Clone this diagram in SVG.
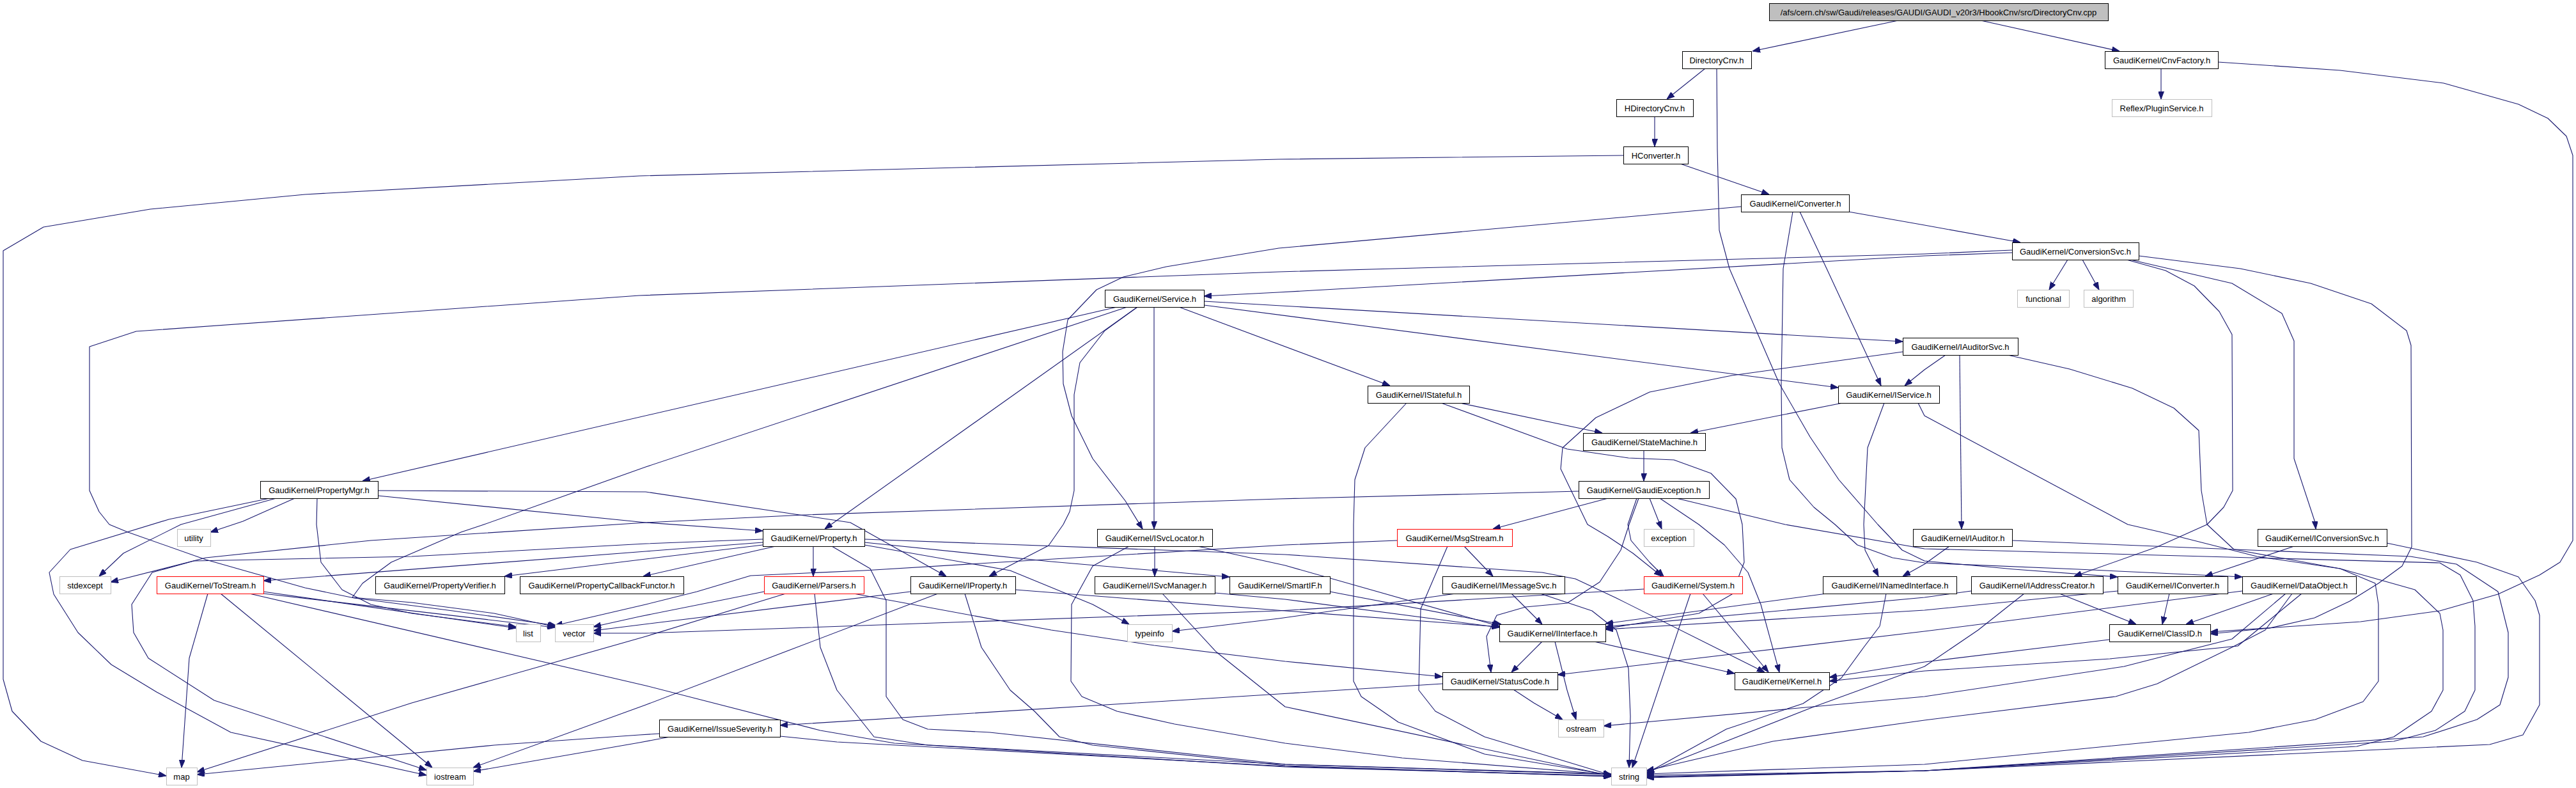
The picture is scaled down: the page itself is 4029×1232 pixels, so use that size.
<svg xmlns="http://www.w3.org/2000/svg" width="4029" height="1232" viewBox="0 0 4029 1232">
<defs>
<marker id="a" markerWidth="12" markerHeight="9" refX="12" refY="4.5" orient="auto" markerUnits="userSpaceOnUse"><path d="M0,0 L12,4.5 L0,9 z" fill="#191970" stroke="#191970" stroke-width="1"/></marker>
<style>
.n rect{fill:#fff;stroke:#000;stroke-width:1}
.g rect{stroke:#bfbfbf}
.r rect{stroke:#ff0000}
.root rect{fill:#bfbfbf}
text{font-family:"Liberation Sans",Arial,Helvetica,sans-serif;font-size:13px;text-anchor:middle;fill:#000}
.e path{fill:none;stroke:#191970;stroke-width:1.1;stroke-linejoin:round;marker-end:url(#a)}
</style>
</defs>
<rect width="4029" height="1232" fill="#fff"/>
<g id="edges" class="e">
<path d="M2969,32 L2741,80"/>
<path d="M3098,32 L3315,80"/>
<path d="M2667,107 L2607,155"/>
<path d="M2588,182 L2588,229"/>
<path d="M2628,256 L2767,304"/>
<path d="M2539,243 L2000,249 L1000,275 L477,304 L235,327 L68,355 L5,392 L5,1062 L19,1112 L64,1159 L129,1189 L260,1213"/>
<path d="M3380,107 L3380,155"/>
<path d="M3469,97 L3660,110 L3822,130 L3939,163 L3985,185 L4014,213 L4024,243 L4024,845 L4004,879 L3972,899 L3907,929 L3816,955 L3692,972 L3457,988"/>
<path d="M2685,107 L2686,233 L2689,360 L2705,420 L2747,517 L2783,600 L2831,683 L2876,750 L2937,820 L2975,860 L3010,877 L3150,890 L3312,902"/>
<path d="M2804,331 L2789,420 L2786,600 L2787,700 L2799,750 L2837,793 L2870,820 L2905,852 L2960,872 L3010,880 L3250,890 L3507,902"/>
<path d="M2815,331 L2857,420 L2942,603"/>
<path d="M2891,331 L3010,352 L3160,379"/>
<path d="M2723,323 L2000,388 L1824,417 L1757,433 L1715,453 L1670,500 L1662,550 L1663,600 L1676,650 L1709,717 L1760,783 L1787,827"/>
<path d="M3147,395 L3010,400 L2000,457 L1883,463"/>
<path d="M3147,391 L3010,397 L2180,420 L2000,425 L1000,462 L213,518 L140,542 L140,767 L155,800 L171,820 L200,832 L322,875 L477,919 L554,935 L708,955 L870,978"/>
<path d="M3234,406 L3205,453"/>
<path d="M3257,406 L3283,453"/>
<path d="M3326,406 L3387,423 L3432,447 L3471,487 L3491,523 L3492,767 L3478,793 L3452,820 L3374,855 L3244,901"/>
<path d="M3332,406 L3491,443 L3569,490 L3588,533 L3588,717 L3621,817 L3622,827"/>
<path d="M3345,400 L3504,420 L3614,443 L3709,475 L3764,517 L3771,540 L3772,855 L3757,885 L3720,912 L3675,940 L3620,966 L3550,982 L3457,991"/>
<path d="M1747,480 L567,752"/>
<path d="M1763,480 L1010,730 L757,820 L721,832 L612,879 L567,912 L551,934 L644,942 L773,959 L868,980"/>
<path d="M1779,480 L1290,827"/>
<path d="M1779,480 L1728,517 L1689,567 L1680,617 L1680,767 L1673,800 L1663,820 L1640,853 L1547,901"/>
<path d="M1805,480 L1805,827"/>
<path d="M1844,480 L2174,603"/>
<path d="M1883,471 L2976,534"/>
<path d="M1883,477 L2875,606"/>
<path d="M2283,630 L2506,677"/>
<path d="M2254,630 L2451,702 L2547,716 L2618,719 L2676,740 L2715,780 L2725,820 L2728,879 L2709,929 L2657,959 L2511,983"/>
<path d="M2200,630 L2135,700 L2119,750 L2117,820 L2117,1065 L2129,1089 L2187,1129 L2322,1179 L2520,1212"/>
<path d="M2882,630 L2644,677"/>
<path d="M2947,630 L2921,700 L2915,820 L2917,860 L2938,901"/>
<path d="M3000,630 L3010,650 L3328,820 L3380,832 L3530,870 L3660,889 L3777,922 L3816,959 L3821,985 L3821,1079 L3803,1112 L3744,1152 L3686,1167 L3010,1205 L2575,1212"/>
<path d="M3043,555 L3010,578 L2979,603"/>
<path d="M3065,555 L3068,827"/>
<path d="M2976,550 L2709,587 L2580,613 L2496,653 L2444,700 L2441,733 L2483,820 L2515,839 L2554,865 L2599,901"/>
<path d="M3140,555 L3237,577 L3335,607 L3400,638 L3439,673 L3443,767 L3452,820 L3494,859 L3660,889 L3715,912 L3720,945 L3720,1065 L3696,1097 L3621,1125 L3517,1145 L3010,1195 L2575,1210"/>
<path d="M2571,704 L2571,752"/>
<path d="M2469,768 L2000,780 L1258,805 L1010,817 L580,845 L322,872 L173,910"/>
<path d="M2515,779 L2335,827"/>
<path d="M2560,779 L2546,820 L2551,845 L2580,879 L2602,901"/>
<path d="M2580,779 L2599,827"/>
<path d="M2596,779 L2657,820 L2697,852 L2734,895 L2754,945 L2783,1051"/>
<path d="M2622,779 L2792,820 L3010,858 L3816,880 L3848,899 L3868,939 L3871,979 L3871,1079 L3855,1112 L3809,1142 L3744,1159 L3010,1205 L2575,1214"/>
<path d="M3049,854 L3010,882 L2976,901"/>
<path d="M3147,845 L3770,870 L3842,882 L3907,925 L3923,989 L3923,1059 L3910,1102 L3874,1125 L3790,1152 L3010,1205 L2575,1215"/>
<path d="M3733,849 L3874,879 L3939,902 L3965,939 L3972,962 L3972,1102 L3946,1149 L3894,1164 L3010,1205 L2575,1216"/>
<path d="M3588,854 L3449,901"/>
<path d="M3221,928 L3341,976"/>
<path d="M3393,928 L3382,976"/>
<path d="M3556,928 L3419,976"/>
<path d="M3575,928 L3491,999 L3400,1022 L3322,1042 L3010,1089 L2508,1135"/>
<path d="M3585,928 L3543,985 L3491,1012 L3374,1069 L3309,1089 L3010,1126 L2773,1159 L2575,1205"/>
<path d="M3166,928 L3094,985 L3010,1042 L2837,1105 L2575,1208"/>
<path d="M3312,924 L3010,954 L2511,984"/>
<path d="M3083,924 L3010,934 L2511,980"/>
<path d="M3507,924 L3010,987 L2436,1055"/>
<path d="M3299,1000 L3010,1035 L2861,1059"/>
<path d="M3600,928 L3500,1010 L3300,1030 L3010,1049 L2861,1065"/>
<path d="M461,779 L380,815 L329,832"/>
<path d="M432,779 L283,820 L193,865 L155,901"/>
<path d="M422,779 L264,812 L110,859 L77,895 L84,929 L122,989 L174,1039 L245,1082 L361,1145 L667,1212"/>
<path d="M496,779 L495,820 L502,879 L535,922 L580,945 L644,959 L807,980"/>
<path d="M591,775 L1010,817 L1193,830"/>
<path d="M591,767 L1010,769 L1330,817 L1480,901"/>
<path d="M325,928 L296,1029 L284,1200"/>
<path d="M345,928 L676,1200"/>
<path d="M412,925 L807,982"/>
<path d="M412,928 L868,981"/>
<path d="M390,928 L1010,1072 L1283,1142 L1399,1162 L2010,1195 L2520,1211"/>
<path d="M1193,843 L1010,850 L644,870 L303,877 L238,895 L206,945 L209,989 L232,1029 L335,1095 L667,1204"/>
<path d="M1193,848 L1010,862 L412,908"/>
<path d="M1193,852 L1010,874 L789,901"/>
<path d="M1213,854 L1006,901"/>
<path d="M1272,854 L1272,901"/>
<path d="M1301,854 L1361,889 L1386,939 L1386,1089 L1412,1125 L1451,1140 L1548,1145 L2010,1195 L2520,1210"/>
<path d="M1352,848 L1644,878 L1923,902"/>
<path d="M1352,852 L1580,892 L1709,945 L1766,976"/>
<path d="M1352,843 L2010,867 L2412,895 L2464,905 L2528,935 L2760,1051"/>
<path d="M2185,845 L2010,852 L1351,892 L1174,900 L1090,925 L1010,945 L868,978"/>
<path d="M2290,854 L2335,901"/>
<path d="M2264,854 L2222,952 L2219,1079 L2245,1112 L2322,1152 L2520,1212"/>
<path d="M1195,925 L1000,964 L928,980"/>
<path d="M1229,928 L1010,995 L644,1099 L308,1207"/>
<path d="M1274,928 L1283,1012 L1309,1079 L1367,1152 L1451,1165 L2010,1199 L2520,1213"/>
<path d="M1335,928 L1644,985 L1805,1009 L2010,1034 L2256,1058"/>
<path d="M1424,925 L1000,977 L928,986"/>
<path d="M1467,928 L1010,1102 L740,1200"/>
<path d="M1509,928 L1535,1012 L1580,1079 L1618,1112 L1657,1152 L1709,1165 L2010,1197 L2520,1214"/>
<path d="M1588,922 L2010,955 L2345,980"/>
<path d="M1806,854 L1806,901"/>
<path d="M1766,854 L1709,885 L1676,945 L1675,1065 L1692,1089 L1747,1112 L1837,1132 L2010,1162 L2193,1185 L2520,1211"/>
<path d="M1873,854 L2010,884 L2345,979"/>
<path d="M1900,927 L2010,937 L2345,981"/>
<path d="M1818,928 L1902,1019 L2010,1105 L2520,1213"/>
<path d="M2080,925 L2348,976"/>
<path d="M2277,928 L2000,967 L1833,987"/>
<path d="M2364,928 L2412,976"/>
<path d="M2409,928 L2490,955 L2528,985 L2547,1045 L2550,1120 L2548,1200"/>
<path d="M2571,921 L2000,955 L1010,990 L928,990"/>
<path d="M2644,928 L2553,1200"/>
<path d="M2663,928 L2766,1051"/>
<path d="M2563,779 L2548,820 L2535,860 L2502,910 L2451,943 L2386,949 L2341,962 L2325,995 L2332,1051"/>
<path d="M2857,928 L2511,975"/>
<path d="M2950,928 L2940,979 L2915,1012 L2880,1060 L2820,1100 L2700,1140 L2575,1209"/>
<path d="M2412,1003 L2364,1051"/>
<path d="M2432,1003 L2451,1079 L2465,1125"/>
<path d="M2493,1003 L2713,1053"/>
<path d="M2367,1078 L2399,1099 L2444,1125"/>
<path d="M2256,1069 L2000,1085 L1220,1134"/>
<path d="M1031,1147 L1000,1149 L773,1165 L308,1211"/>
<path d="M1048,1152 L1000,1161 L740,1206"/>
<path d="M1220,1151 L1309,1160 L2010,1198 L2520,1214"/>
</g>
<g id="n-root" class="n root"><rect x="2767.5" y="5.5" width="530" height="27"/><text x="3032" y="23.5">/afs/cern.ch/sw/Gaudi/releases/GAUDI/GAUDI_v20r3/HbookCnv/src/DirectoryCnv.cpp</text></g>
<g id="n-DirectoryCnv" class="n"><rect x="2631.5" y="80.5" width="108" height="27"/><text x="2685" y="98.5">DirectoryCnv.h</text></g>
<g id="n-CnvFactory" class="n"><rect x="3292.5" y="80.5" width="177" height="27"/><text x="3381" y="98.5">GaudiKernel/CnvFactory.h</text></g>
<g id="n-HDirectoryCnv" class="n"><rect x="2528.5" y="155.5" width="120" height="27"/><text x="2588" y="173.5">HDirectoryCnv.h</text></g>
<g id="n-PluginService" class="n g"><rect x="3303.5" y="155.5" width="156" height="27"/><text x="3381" y="173.5">Reflex/PluginService.h</text></g>
<g id="n-HConverter" class="n"><rect x="2539.5" y="229.5" width="101" height="27"/><text x="2590" y="247.5">HConverter.h</text></g>
<g id="n-Converter" class="n"><rect x="2723.5" y="304.5" width="169" height="27"/><text x="2808" y="322.5">GaudiKernel/Converter.h</text></g>
<g id="n-ConversionSvc" class="n"><rect x="3147.5" y="379.5" width="198" height="27"/><text x="3246" y="397.5">GaudiKernel/ConversionSvc.h</text></g>
<g id="n-Service" class="n"><rect x="1728.5" y="453.5" width="155" height="27"/><text x="1806" y="471.5">GaudiKernel/Service.h</text></g>
<g id="n-functional" class="n g"><rect x="3155.5" y="453.5" width="81" height="27"/><text x="3196" y="471.5">functional</text></g>
<g id="n-algorithm" class="n g"><rect x="3259.5" y="453.5" width="77" height="27"/><text x="3298" y="471.5">algorithm</text></g>
<g id="n-IAuditorSvc" class="n"><rect x="2976.5" y="528.5" width="180" height="27"/><text x="3066" y="546.5">GaudiKernel/IAuditorSvc.h</text></g>
<g id="n-IStateful" class="n"><rect x="2139.5" y="603.5" width="159" height="27"/><text x="2219" y="621.5">GaudiKernel/IStateful.h</text></g>
<g id="n-IService" class="n"><rect x="2875.5" y="603.5" width="158" height="27"/><text x="2954" y="621.5">GaudiKernel/IService.h</text></g>
<g id="n-StateMachine" class="n"><rect x="2476.5" y="677.5" width="191" height="27"/><text x="2572" y="695.5">GaudiKernel/StateMachine.h</text></g>
<g id="n-GaudiException" class="n"><rect x="2469.5" y="752.5" width="204" height="27"/><text x="2571" y="770.5">GaudiKernel/GaudiException.h</text></g>
<g id="n-PropertyMgr" class="n"><rect x="407.5" y="752.5" width="184" height="27"/><text x="499" y="770.5">GaudiKernel/PropertyMgr.h</text></g>
<g id="n-Property" class="n"><rect x="1193.5" y="827.5" width="159" height="27"/><text x="1273" y="845.5">GaudiKernel/Property.h</text></g>
<g id="n-ISvcLocator" class="n"><rect x="1716.5" y="827.5" width="180" height="27"/><text x="1806" y="845.5">GaudiKernel/ISvcLocator.h</text></g>
<g id="n-MsgStream" class="n r"><rect x="2185.5" y="827.5" width="180" height="27"/><text x="2275" y="845.5">GaudiKernel/MsgStream.h</text></g>
<g id="n-exception" class="n g"><rect x="2571.5" y="827.5" width="78" height="27"/><text x="2610" y="845.5">exception</text></g>
<g id="n-IAuditor" class="n"><rect x="2992.5" y="827.5" width="155" height="27"/><text x="3070" y="845.5">GaudiKernel/IAuditor.h</text></g>
<g id="n-IConversionSvc" class="n"><rect x="3531.5" y="827.5" width="202" height="27"/><text x="3632" y="845.5">GaudiKernel/IConversionSvc.h</text></g>
<g id="n-utility" class="n g"><rect x="277.5" y="827.5" width="52" height="27"/><text x="303" y="845.5">utility</text></g>
<g id="n-stdexcept" class="n g"><rect x="93.5" y="901.5" width="80" height="27"/><text x="133" y="919.5">stdexcept</text></g>
<g id="n-ToStream" class="n r"><rect x="245.5" y="901.5" width="167" height="27"/><text x="329" y="919.5">GaudiKernel/ToStream.h</text></g>
<g id="n-PropertyVerifier" class="n"><rect x="587.5" y="901.5" width="202" height="27"/><text x="688" y="919.5">GaudiKernel/PropertyVerifier.h</text></g>
<g id="n-PropertyCallbackFunctor" class="n"><rect x="813.5" y="901.5" width="256" height="27"/><text x="941" y="919.5">GaudiKernel/PropertyCallbackFunctor.h</text></g>
<g id="n-Parsers" class="n r"><rect x="1195.5" y="901.5" width="156" height="27"/><text x="1273" y="919.5">GaudiKernel/Parsers.h</text></g>
<g id="n-IProperty" class="n"><rect x="1424.5" y="901.5" width="164" height="27"/><text x="1506" y="919.5">GaudiKernel/IProperty.h</text></g>
<g id="n-ISvcManager" class="n"><rect x="1712.5" y="901.5" width="188" height="27"/><text x="1806" y="919.5">GaudiKernel/ISvcManager.h</text></g>
<g id="n-SmartIF" class="n"><rect x="1923.5" y="901.5" width="157" height="27"/><text x="2002" y="919.5">GaudiKernel/SmartIF.h</text></g>
<g id="n-IMessageSvc" class="n"><rect x="2256.5" y="901.5" width="191" height="27"/><text x="2352" y="919.5">GaudiKernel/IMessageSvc.h</text></g>
<g id="n-System" class="n r"><rect x="2571.5" y="901.5" width="154" height="27"/><text x="2648" y="919.5">GaudiKernel/System.h</text></g>
<g id="n-INamedInterface" class="n"><rect x="2851.5" y="901.5" width="209" height="27"/><text x="2956" y="919.5">GaudiKernel/INamedInterface.h</text></g>
<g id="n-IAddressCreator" class="n"><rect x="3083.5" y="901.5" width="206" height="27"/><text x="3186" y="919.5">GaudiKernel/IAddressCreator.h</text></g>
<g id="n-IConverter" class="n"><rect x="3312.5" y="901.5" width="172" height="27"/><text x="3398" y="919.5">GaudiKernel/IConverter.h</text></g>
<g id="n-DataObject" class="n"><rect x="3507.5" y="901.5" width="178" height="27"/><text x="3596" y="919.5">GaudiKernel/DataObject.h</text></g>
<g id="n-list" class="n g"><rect x="807.5" y="976.5" width="38" height="27"/><text x="826" y="994.5">list</text></g>
<g id="n-vector" class="n g"><rect x="868.5" y="976.5" width="60" height="27"/><text x="898" y="994.5">vector</text></g>
<g id="n-typeinfo" class="n g"><rect x="1763.5" y="976.5" width="70" height="27"/><text x="1798" y="994.5">typeinfo</text></g>
<g id="n-IInterface" class="n"><rect x="2345.5" y="976.5" width="166" height="27"/><text x="2428" y="994.5">GaudiKernel/IInterface.h</text></g>
<g id="n-ClassID" class="n"><rect x="3299.5" y="976.5" width="158" height="27"/><text x="3378" y="994.5">GaudiKernel/ClassID.h</text></g>
<g id="n-StatusCode" class="n"><rect x="2256.5" y="1051.5" width="180" height="27"/><text x="2346" y="1069.5">GaudiKernel/StatusCode.h</text></g>
<g id="n-Kernel" class="n"><rect x="2713.5" y="1051.5" width="148" height="27"/><text x="2787" y="1069.5">GaudiKernel/Kernel.h</text></g>
<g id="n-IssueSeverity" class="n"><rect x="1031.5" y="1125.5" width="189" height="27"/><text x="1126" y="1143.5">GaudiKernel/IssueSeverity.h</text></g>
<g id="n-ostream" class="n g"><rect x="2437.5" y="1125.5" width="71" height="27"/><text x="2473" y="1143.5">ostream</text></g>
<g id="n-map" class="n g"><rect x="260.5" y="1200.5" width="48" height="27"/><text x="284" y="1218.5">map</text></g>
<g id="n-iostream" class="n g"><rect x="667.5" y="1200.5" width="73" height="27"/><text x="704" y="1218.5">iostream</text></g>
<g id="n-string" class="n g"><rect x="2520.5" y="1200.5" width="55" height="27"/><text x="2548" y="1218.5">string</text></g>
</svg>
